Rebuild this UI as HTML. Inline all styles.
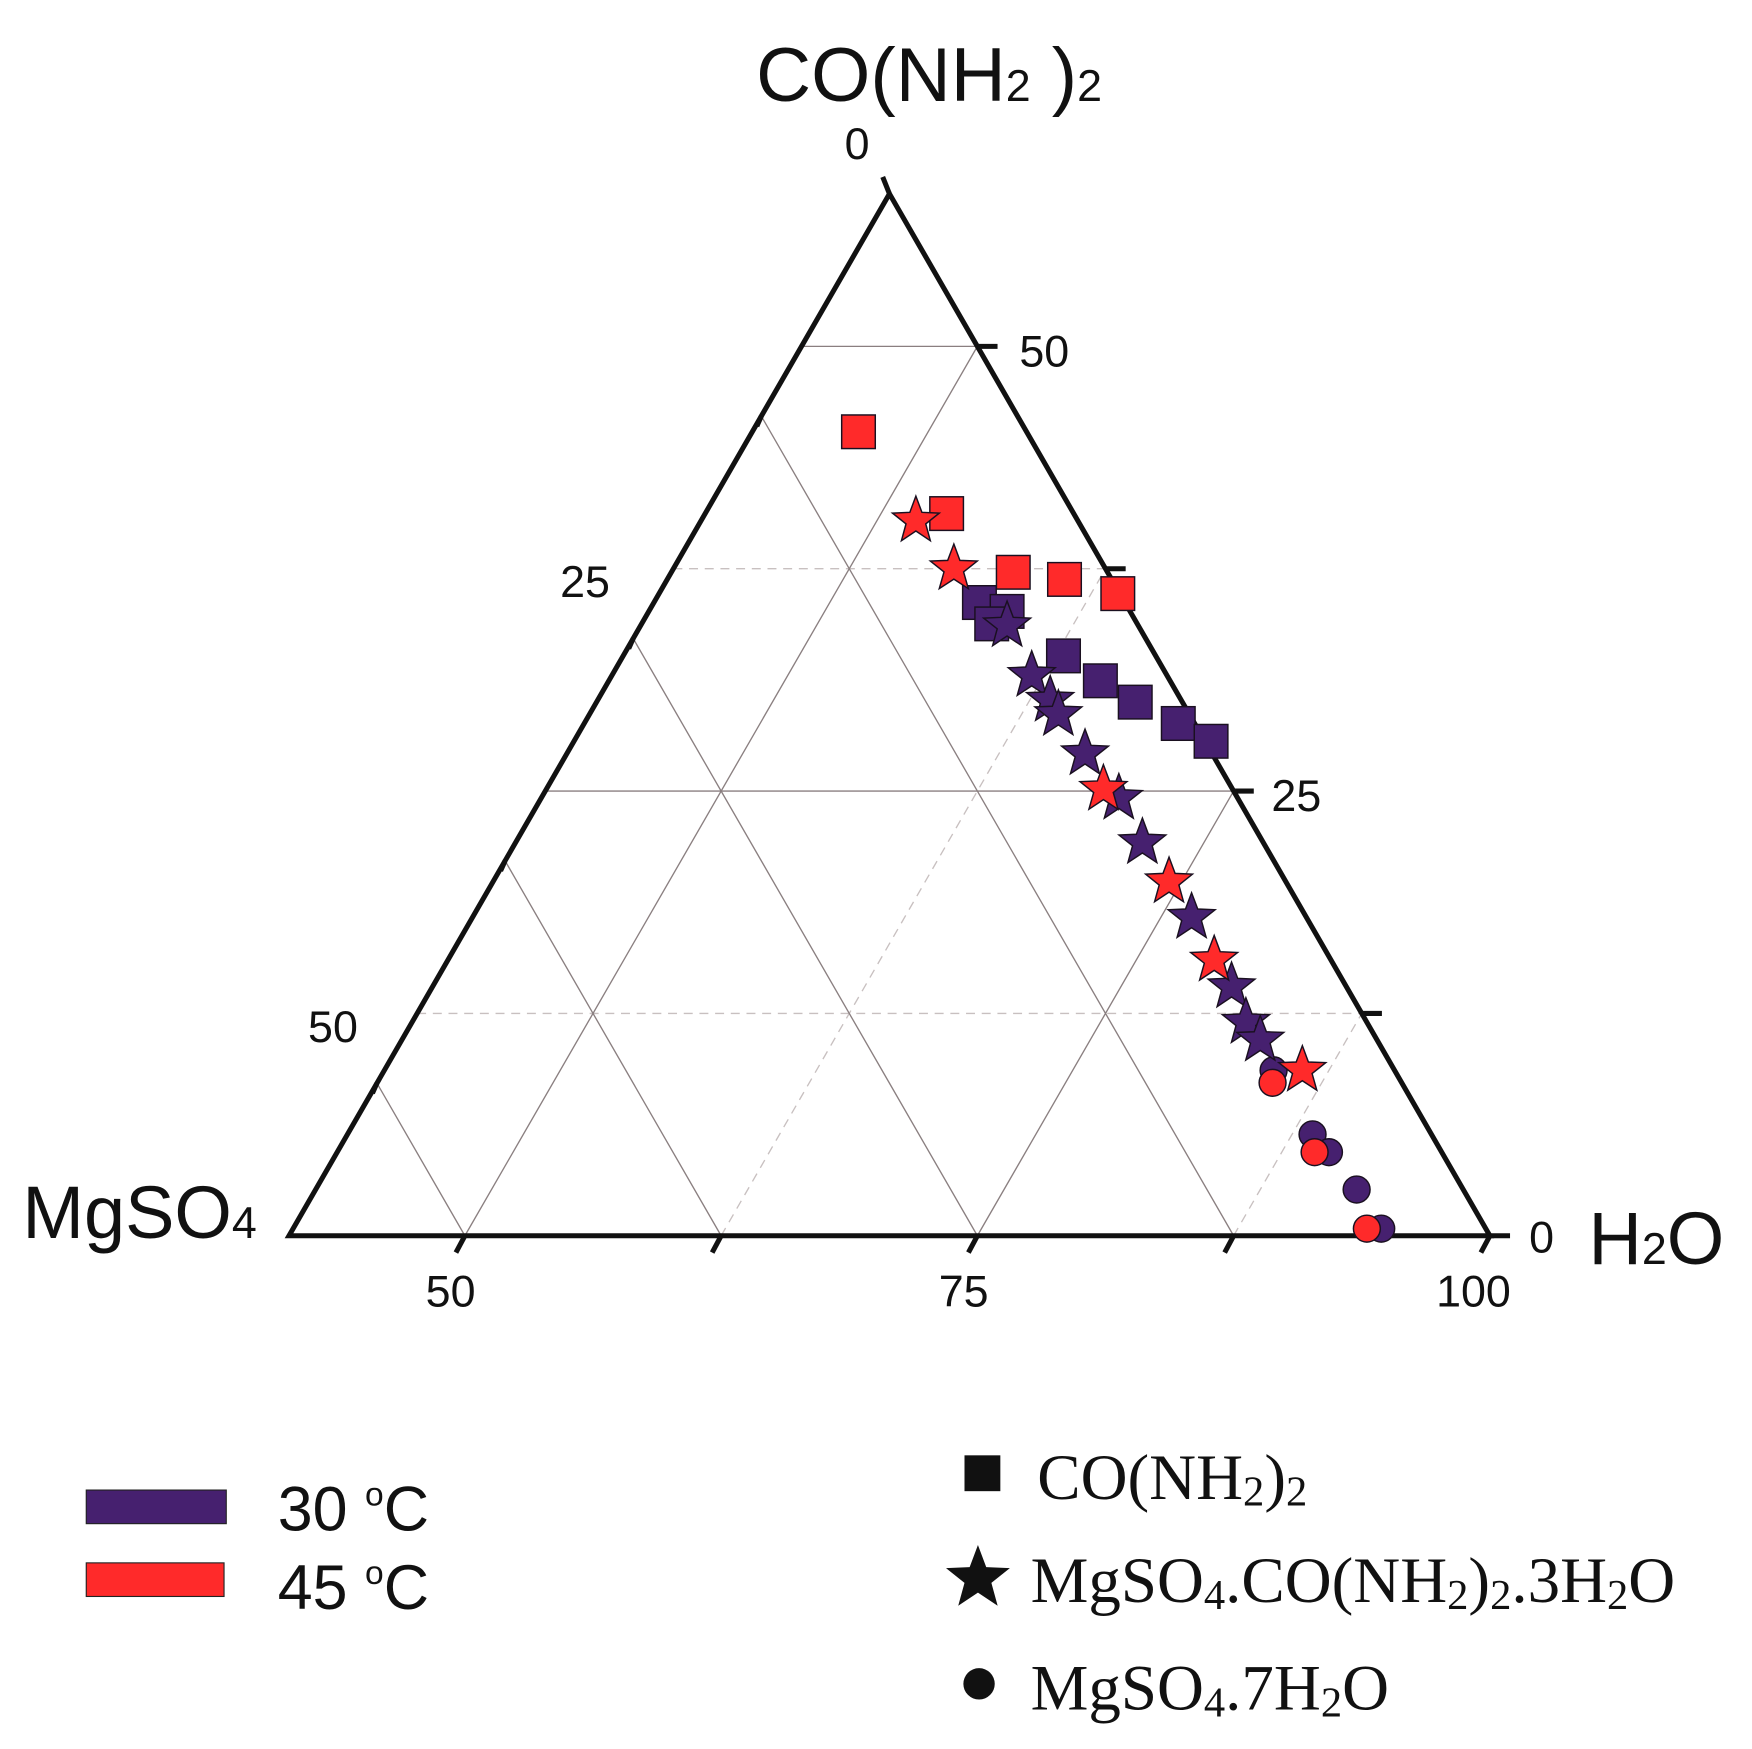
<!DOCTYPE html>
<html><head><meta charset="utf-8"><style>
html,body{margin:0;padding:0;background:#fff;}
svg{display:block;}
.sans{font-family:"Liberation Sans",sans-serif;}
.serif{font-family:"Liberation Serif",serif;}
</style></head><body>
<svg id="chart" width="1752" height="1749" viewBox="0 0 1564 1561" xmlns="http://www.w3.org/2000/svg">
<rect width="1564" height="1561" fill="#fff"/>
<g id="grid"></g>
<g id="frame"></g>
<g id="marks"></g>
<g class="sans" fill="#111">
<text x="675" y="90" font-size="68">CO(NH<tspan font-size="40">2</tspan> )<tspan font-size="40">2</tspan></text>
<text x="20" y="1105" font-size="66">MgSO<tspan font-size="40">4</tspan></text>
<text x="1418" y="1128" font-size="66">H<tspan font-size="40">2</tspan>O</text>
<text x="754" y="142" font-size="40">0</text>
<text x="1365" y="1118" font-size="40">0</text>
<text x="910" y="327" font-size="40">50</text>
<text x="1135" y="724" font-size="40">25</text>
<text x="500" y="533" font-size="40">25</text>
<text x="275" y="930" font-size="40">50</text>
<text x="380" y="1166" font-size="40">50</text>
<text x="838" y="1166" font-size="40">75</text>
<text x="1282" y="1166" font-size="40">100</text>
</g>
<g>
<rect x="77" y="1330" width="125" height="30" fill="#46206f" stroke="#222" stroke-width="1"/>
<rect x="77" y="1395" width="123" height="30" fill="#ff2a2a" stroke="#222" stroke-width="1"/>
<text class="sans" x="248" y="1366" font-size="56" fill="#111">30 <tspan font-size="30" dy="-22">o</tspan><tspan dy="22">C</tspan></text>
<text class="sans" x="248" y="1436" font-size="56" fill="#111">45 <tspan font-size="30" dy="-22">o</tspan><tspan dy="22">C</tspan></text>
</g>
<g fill="#111">
<rect x="861" y="1299" width="32" height="32"/>
<polygon id="legstar"/>
<circle cx="874" cy="1503" r="14"/>
<text class="serif" x="926" y="1338" font-size="58">CO(NH<tspan font-size="38" dy="6">2</tspan><tspan dy="-6">)</tspan><tspan font-size="38" dy="6">2</tspan></text>
<text class="serif" x="920" y="1430" font-size="58">MgSO<tspan font-size="38" dy="6">4</tspan><tspan dy="-6">.CO(NH</tspan><tspan font-size="38" dy="6">2</tspan><tspan dy="-6">)</tspan><tspan font-size="38" dy="6">2</tspan><tspan dy="-6">.3H</tspan><tspan font-size="38" dy="6">2</tspan><tspan dy="-6">O</tspan></text>
<text class="serif" x="920" y="1526" font-size="58">MgSO<tspan font-size="38" dy="6">4</tspan><tspan dy="-6">.7H</tspan><tspan font-size="38" dy="6">2</tspan><tspan dy="-6">O</tspan></text>
</g>
</svg>
<script>
// data: [water %, urea %]
const ureaSq45W=[46.6,53.2,58.1,60.8,63.8];
const ureaSq45U=[45.2,40.6,37.3,36.9,36.1];
const ureaSq30W=[57.3,58.9,58.5,62.9,65.4,67.7,70.4,72.5];
const ureaSq30U=[35.6,35.1,34.4,32.6,31.2,30.0,28.8,27.8];
const dblStar30W=[59.3,61.9,63.5,64.3,66.7,69.6,72.0,76.5,80.4,82.1,83.3];
const dblStar30U=[34.3,31.5,30.1,29.3,27.1,24.6,22.1,17.9,14.0,12.0,11.0];
const dblStar45W=[51.9,55.1,68.6,74.4,78.8,86.2];
const dblStar45U=[40.2,37.5,25.1,19.9,15.5,9.3];
const epsCirc30W=[84.8,88.5,89.8,92.2,94.5];
const epsCirc30U=[9.3,5.7,4.7,2.6,0.4];
const epsCirc45W=[85.1,89.1,93.8];
const epsCirc45U=[8.6,4.7,0.4];

const NS='http://www.w3.org/2000/svg';
const PX=18.3;
function sx(w,u){return 415+(w-50)*PX+u*PX/2;}
function sy(u){return 1103-u*PX*0.8677;}
function mk(tag,attrs,parent){const e=document.createElementNS(NS,tag);for(const k in attrs)e.setAttribute(k,attrs[k]);parent.appendChild(e);return e;}
function starPts(cx,cy,R){const r=R*0.42;let p=[];for(let i=0;i<10;i++){const a=-Math.PI/2+i*Math.PI/5;const rr=i%2?r:R;p.push((cx+rr*Math.cos(a)).toFixed(1)+','+(cy+rr*Math.sin(a)).toFixed(1));}return p.join(' ');}
document.getElementById('legstar').setAttribute('points',starPts(873,1409,30));

const grid=document.getElementById('grid'),frame=document.getElementById('frame'),marks=document.getElementById('marks');
function line(x1,y1,x2,y2,st,parent,name){const l=mk('line',{x1,y1,x2,y2},parent);for(const k in st)l.setAttribute(k,st[k]);

}
const solid={stroke:'#8a7f80','stroke-width':1.2};
const dash={stroke:'#c8c0c0','stroke-width':1.2,'stroke-dasharray':'8,6'};
const Wmin=50-(415-258)/PX;
[[25,solid],[50,solid],[37.5,dash],[12.5,dash]].forEach(([u,s])=>{line(sx(Wmin,u),sy(u),sx(100-u,u),sy(u),s,grid,'grid-urea-'+u);});
[[50,solid],[75,solid],[62.5,dash],[87.5,dash]].forEach(([w,s])=>{line(sx(w,0),sy(0),sx(w,100-w),sy(100-w),s,grid,'grid-water-'+w);});
[[50,solid],[75,solid],[62.5,solid],[87.5,solid]].forEach(([w,s])=>{const u=(w-Wmin);line(sx(w,0),sy(0),sx(w-u,u),sy(u),s,grid,'grid-mgso4-'+w);});
const apexU=100-Wmin;
const fr=mk('polygon',{points:`${sx(Wmin,0)},${sy(0)} ${sx(100,0)},${sy(0)} ${sx(Wmin,apexU)},${sy(apexU)}`,fill:'none',stroke:'#111','stroke-width':4.5,'stroke-linejoin':'miter'},frame);


const tk={stroke:'#111','stroke-width':4.5};
[50,62.5,75,87.5,100].forEach(w=>line(sx(w,0),sy(0),sx(w,0)-8,sy(0)+15,tk,frame,'bottom-tick'));
[50,37.5,25,12.5,0].forEach(u=>line(sx(100-u,u),sy(u),sx(100-u,u)+18,sy(u),tk,frame,'right-tick'));
line(sx(Wmin,apexU),sy(apexU),sx(Wmin,apexU)-6,sy(apexU)-15,tk,frame,'apex-tick');
[50,62.5,75,87.5].forEach(w=>{const u=w-Wmin;line(sx(w-u,u),sy(u),sx(w-u,u)-4,sy(u)+9,tk,frame,'left-tick');});

const PUR='#46206f',RED='#ff2a2a';
function drawSet(W,U,shape,col,name){for(let i=0;i<W.length;i++){const x=sx(W[i],U[i]),y=sy(U[i]);let e;
if(shape==='sq')e=mk('rect',{x:x-15,y:y-15,width:30,height:30},marks);
else if(shape==='st')e=mk('polygon',{points:starPts(x,y,22)},marks);
else e=mk('circle',{cx:x,cy:y,r:12},marks);
e.setAttribute('fill',col);e.setAttribute('stroke','#1a1020');e.setAttribute('stroke-width','1.3');

}}
drawSet(epsCirc30W,epsCirc30U,'ci',PUR,'point-mgso4-7h2o-30c');
drawSet(epsCirc45W,epsCirc45U,'ci',RED,'point-mgso4-7h2o-45c');
drawSet(ureaSq30W,ureaSq30U,'sq',PUR,'point-urea-30c');
drawSet(ureaSq45W,ureaSq45U,'sq',RED,'point-urea-45c');
drawSet(dblStar30W,dblStar30U,'st',PUR,'point-double-salt-30c');
drawSet(dblStar45W,dblStar45U,'st',RED,'point-double-salt-45c');
</script>
</body></html>
